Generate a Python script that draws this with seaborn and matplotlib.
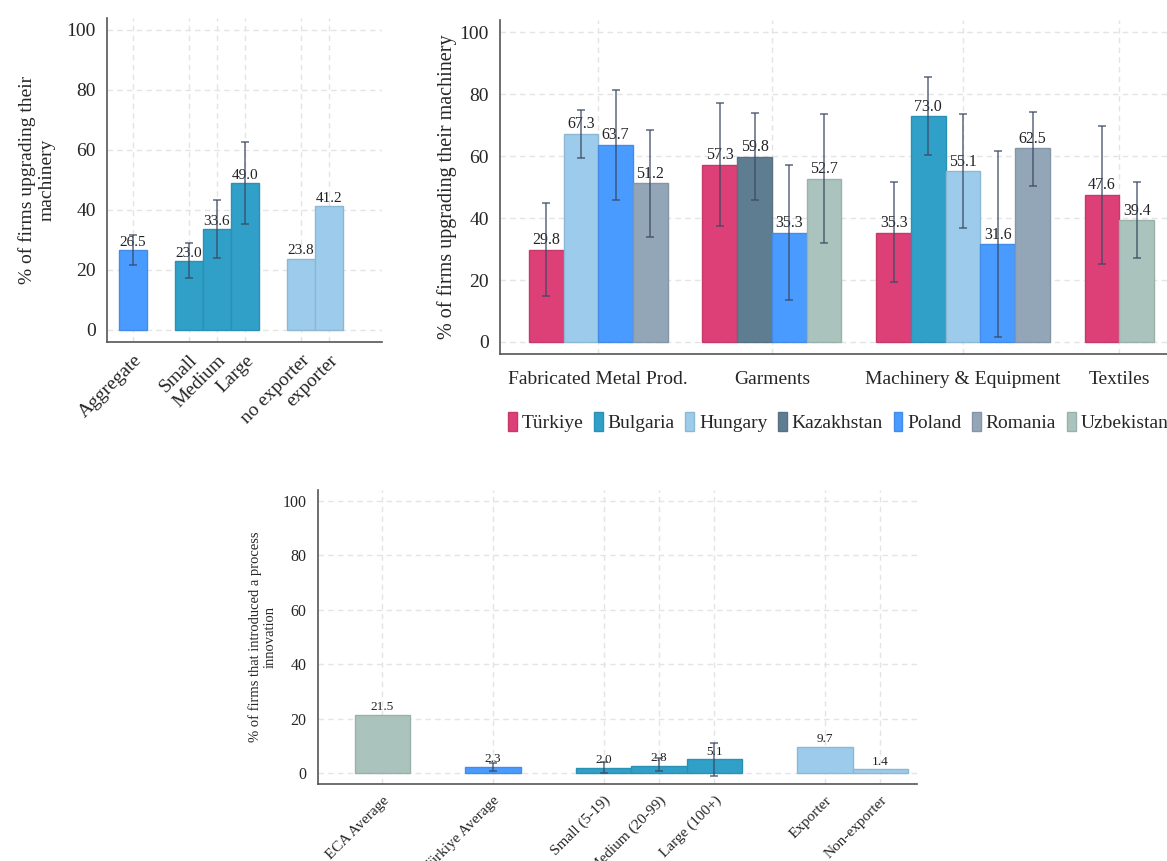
import numpy as np
import pandas as pd
import matplotlib
matplotlib.use('Agg')
import matplotlib.pyplot as plt
import matplotlib.colors as mcolors
from matplotlib.container import BarContainer
import seaborn as sns

# colours per country
TUR = '#dc4077'
BGR = '#30a0c8'
HUN = '#9dcbeb'
KAZ = '#5f7d91'
POL = '#4a9bff'
ROU = '#93a6b8'
UZB = '#abc3bd'

# panel 1: machinery upgrade, Türkiye by firm type
p1_labels = ['Aggregate', 'Small', 'Medium', 'Large', 'no exporter', 'exporter']
p1_values = [26.5, 23.0, 33.6, 49.0, 23.8, 41.2]
p1_low = [21.8, 17.2, 24.1, 35.3, np.nan, np.nan]
p1_high = [31.6, 28.9, 43.3, 62.8, np.nan, np.nan]
p1_colors = [POL, BGR, BGR, BGR, HUN, HUN]
p1_order = ['Aggregate', 'gap1', 'Small', 'Medium', 'Large', 'gap2', 'no exporter', 'exporter']

# panel 2: machinery upgrade by sector and country
countries = ['Türkiye', 'Bulgaria', 'Hungary', 'Kazakhstan', 'Poland', 'Romania', 'Uzbekistan']
country_colors = [TUR, BGR, HUN, KAZ, POL, ROU, UZB]
sectors = ['Fabricated Metal Prod.', 'Garments', 'Machinery & Equipment', 'Textiles']

fab_countries = ['Türkiye', 'Hungary', 'Poland', 'Romania']
fab_values = [29.8, 67.3, 63.7, 51.2]
fab_low = [14.9, 59.4, 45.8, 33.9]
fab_high = [44.8, 74.8, 81.3, 68.6]

gar_countries = ['Türkiye', 'Kazakhstan', 'Poland', 'Uzbekistan']
gar_values = [57.3, 59.8, 35.3, 52.7]
gar_low = [37.5, 45.8, 13.5, 31.9]
gar_high = [77.2, 73.9, 57.3, 73.7]

mach_countries = ['Türkiye', 'Bulgaria', 'Hungary', 'Poland', 'Romania']
mach_values = [35.3, 73.0, 55.1, 31.6, 62.5]
mach_low = [19.4, 60.3, 36.8, 1.6, 50.5]
mach_high = [51.5, 85.6, 73.6, 61.8, 74.3]

tex_countries = ['Türkiye', 'Uzbekistan']
tex_values = [47.6, 39.4]
tex_low = [25.2, 27.0]
tex_high = [69.9, 51.8]

# panel 3: process innovation
p3_labels = ['ECA Average', 'Türkiye Average', 'Small (5-19)', 'Medium (20-99)',
             'Large (100+)', 'Exporter', 'Non-exporter']
p3_values = [21.5, 2.3, 2.0, 2.8, 5.1, 9.7, 1.4]
p3_low = [np.nan, 0.7, -0.1, 0.9, -0.9, np.nan, np.nan]
p3_high = [np.nan, 3.9, 4.1, 5.4, 11.0, np.nan, np.nan]
p3_colors = [UZB, POL, BGR, BGR, BGR, HUN, HUN]
p3_order = ['ECA Average', 'gap1', 'Türkiye Average', 'gap2', 'Small (5-19)',
            'Medium (20-99)', 'Large (100+)', 'gap3', 'Exporter', 'Non-exporter']

sns.set_theme(style='white')
plt.rcParams['font.family'] = ['Liberation Serif', 'DejaVu Serif']

ERR_KW = dict(fmt='none', ecolor='#3b4a63', alpha=0.7, elinewidth=1.3,
              capsize=3, capthick=1.3, zorder=4)


def darker(c, f=0.9):
    return tuple(x * f for x in mcolors.to_rgb(c))


def style_axis(ax, fs):
    for s in ['top', 'right']:
        ax.spines[s].set_visible(False)
    for s in ['left', 'bottom']:
        ax.spines[s].set_color('#555555')
        ax.spines[s].set_linewidth(1.2)
    ax.set_axisbelow(True)
    ax.grid(True, color='#e4e4e4', linestyle=(0, (4, 3)), linewidth=1)
    ax.set_ylim(-4, 104)
    ax.set_yticks([0, 20, 40, 60, 80, 100])
    ax.tick_params(axis='y', length=5, width=1, color='#555555', labelsize=fs, pad=3)
    for p in ax.patches:
        p.set_edgecolor(darker(p.get_facecolor()))
        p.set_linewidth(1)


def label_bars(ax, fs):
    for c in ax.containers:
        if not isinstance(c, BarContainer):
            continue
        heights = [p.get_height() for p in c]
        labs = [f'{h:.1f}' if np.isfinite(h) else '' for h in heights]
        ax.bar_label(c, labels=labs, padding=1, fontsize=fs, color='#222222')


def simple_panel(ax, order, labels, values, low, high, colors, fs_tick, fs_val, fs_x):
    df = pd.DataFrame({'label': labels, 'value': values, 'low': low, 'high': high})
    sns.barplot(data=df, x='label', y='value', order=order, hue='label',
                palette=dict(zip(labels, colors)), width=1, dodge=False, saturation=1,
                legend=False, errorbar=None, ax=ax)
    label_bars(ax, fs_val)
    pos = [order.index(l) for l in labels]
    df['pos'] = pos
    e = df.dropna()
    ax.errorbar(e['pos'], e['value'], yerr=[e['value'] - e['low'], e['high'] - e['value']], **ERR_KW)
    style_axis(ax, fs_tick)
    ax.set_xticks(pos)
    ax.set_xticklabels(labels, rotation=45, ha='right', rotation_mode='anchor', fontsize=fs_x)
    ax.tick_params(axis='x', length=4, width=1, color='#555555', pad=3)
    ax.set_xlabel('')


fig = plt.figure(figsize=(11.67, 8.61), dpi=100)

# ---- panel 1
ax1 = fig.add_axes([0.0917, 0.6028, 0.2356, 0.3763])
simple_panel(ax1, p1_order, p1_labels, p1_values, p1_low, p1_high, p1_colors, 14, 11, 14)
ax1.set_xlim(-0.93, 8.9)
ax1.set_ylabel('% of firms upgrading their\nmachinery', fontsize=14, labelpad=8)

# ---- panel 2
sector_data = [
    (fab_countries, fab_values, fab_low, fab_high),
    (gar_countries, gar_values, gar_low, gar_high),
    (mach_countries, mach_values, mach_low, mach_high),
    (tex_countries, tex_values, tex_low, tex_high),
]
rows = []
p2_order = []
centers = []
for i, (sec, (cs, vs, lo, hi)) in enumerate(zip(sectors, sector_data)):
    if i > 0:
        p2_order.append(f'gap{i}')
    start = len(p2_order)
    for c, v, l, h in zip(cs, vs, lo, hi):
        key = f'{sec}|{c}'
        p2_order.append(key)
        rows.append({'key': key, 'sector': sec, 'country': c, 'value': v, 'low': l, 'high': h})
    centers.append((start + len(p2_order) - 1) / 2)
df2 = pd.DataFrame(rows)
df2['pos'] = [p2_order.index(k) for k in df2['key']]

ax2 = fig.add_axes([0.4284, 0.5885, 0.5716, 0.3883])
sns.barplot(data=df2, x='key', y='value', order=p2_order, hue='country', hue_order=countries,
            palette=dict(zip(countries, country_colors)), width=1, dodge=False, saturation=1,
            errorbar=None, ax=ax2)
label_bars(ax2, 11.5)
ax2.errorbar(df2['pos'], df2['value'], yerr=[df2['value'] - df2['low'], df2['high'] - df2['value']], **ERR_KW)
style_axis(ax2, 14)
ax2.set_xlim(-1.33, 17.87)
ax2.set_xticks(centers)
ax2.set_xticklabels(sectors, fontsize=14)
ax2.tick_params(axis='x', length=0, pad=12)
ax2.set_xlabel('')
ax2.set_ylabel('% of firms upgrading their machinery', fontsize=14.5, labelpad=2)

handles, labs = ax2.get_legend_handles_labels()
ax2.get_legend().remove()
for h, c in zip(handles, country_colors):
    h.set_edgecolor(darker(c))
fig.legend(handles, labs, loc='center left', bbox_to_anchor=(508 / 1167, 1 - 422 / 861),
           ncol=7, frameon=False, fontsize=14, handlelength=0.45, handleheight=1.1,
           handletextpad=0.25, columnspacing=0.55, borderaxespad=0, borderpad=0)

# ---- panel 3
ax3 = fig.add_axes([0.2722, 0.0894, 0.5133, 0.3415])
simple_panel(ax3, p3_order, p3_labels, p3_values, p3_low, p3_high, p3_colors, 11.5, 9.5, 11)
ax3.set_xlim(-1.17, 9.66)
ax3.set_ylabel('% of firms that introduced a process\ninnovation', fontsize=10.5, labelpad=4)

fig.savefig('out.png', dpi=100)
